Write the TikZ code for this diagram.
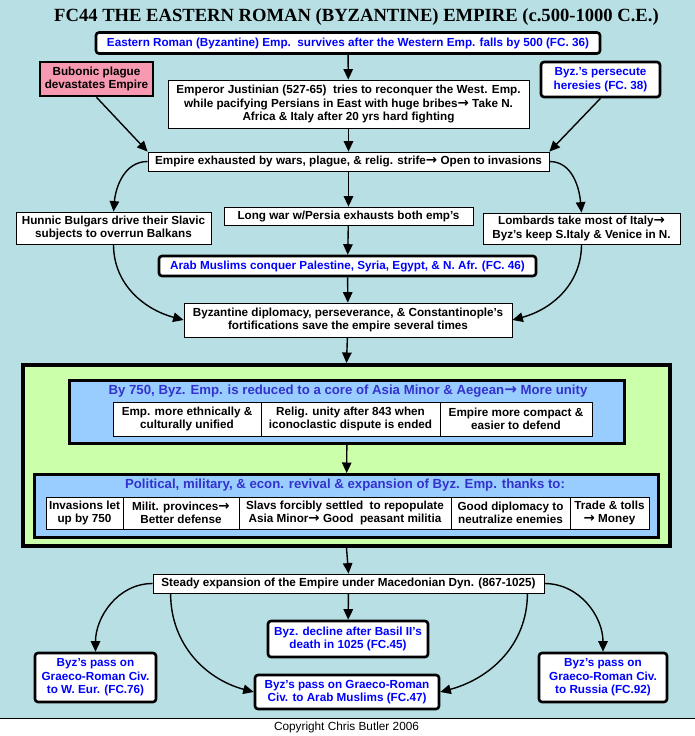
\documentclass[tikz,border=0pt]{standalone}
\usepackage{fontspec}
\setmainfont{Liberation Sans}
\newfontfamily\titlefont{Liberation Serif}
\newfontfamily\arrfont{DejaVu Sans}
\newcommand\ra{{\arrfont\bfseries\scalebox{1.15}{→}}}
\usetikzlibrary{arrows.meta,calc}
\definecolor{bgc}{HTML}{B8E0E4}
\definecolor{pinkc}{HTML}{F799B0}
\definecolor{greenc}{HTML}{CCFFAA}
\definecolor{bluec}{HTML}{99CCFF}
\definecolor{fcblue}{HTML}{0000FF}
\definecolor{ttlblue}{HTML}{3333CC}
\tikzset{
  base/.style={draw, line width=0.8pt, fill=white, align=center, inner sep=0.5pt,
    font=\bfseries\fontsize{11.7}{13.6}\selectfont},
  fcbox/.style={base, rounded corners=3pt, line width=2.6pt, text=fcblue},
  pinkbox/.style={base, line width=2.6pt, fill=pinkc},
  cell/.style={base},
  panel/.style={draw, line width=3pt, fill=bluec},
  ttl/.style={font=\bfseries\fontsize{13.2}{15}\selectfont, text=ttlblue, inner sep=0pt},
  arr/.style={-{Triangle[length=10.5pt,width=9.5pt]}, line width=1.4pt},
}
\begin{document}
\begin{tikzpicture}[x=1pt,y=1pt]
\useasboundingbox (0,0) rectangle (695,-736);
\fill[bgc] (0,0) rectangle (695,-718);
\fill[white] (0,-718) rectangle (695,-736);
\draw[line width=1pt] (0,-718.5) -- (695,-718.5);

\node[font=\titlefont\bfseries\fontsize{18.6}{20}\selectfont, inner sep=0pt] (title) at (356.5,-17.5)
  {FC44 THE EASTERN ROMAN (BYZANTINE) EMPIRE (c.500-1000 C.E.)};

\node[fcbox, minimum width=504, minimum height=21] (east) at (348,-43)
  {Eastern Roman (Byzantine) Emp.\ \ survives after the Western Emp. falls by 500 (FC. 36)};
\node[pinkbox, minimum width=113, minimum height=34] (plague) at (96.5,-79)
  {Bubonic plague\\devastates Empire};
\node[base, minimum width=361, minimum height=48] (just) at (348.5,-104)
  {Emperor Justinian (527-65)\ \ tries to reconquer the West. Emp.\\
   while pacifying Persians in East with huge bribes\ra\ Take N.\\
   Africa \& Italy after 20 yrs hard fighting};
\node[fcbox, minimum width=119, minimum height=35] (pers) at (600.5,-79.5)
  {Byz.’s persecute\\heresies (FC. 38)};

\node[base, minimum width=401, minimum height=19] (exh) at (348.5,-161.5)
  {Empire exhausted by wars, plague, \& relig. strife\ra\ Open to invasions};
\node[base, minimum width=195, minimum height=32] (hun) at (113.5,-228)
  {Hunnic Bulgars drive their Slavic\\subjects to overrun Balkans};
\node[base, minimum width=249, minimum height=18] (war) at (348.5,-216)
  {Long war w/Persia exhausts both emp’s};
\node[base, minimum width=197, minimum height=31] (lomb) at (581.5,-228.5)
  {Lombards take most of Italy\ra\\Byz’s keep S.Italy \& Venice in N.};
\node[fcbox, minimum width=377, minimum height=20] (arab) at (347.5,-266)
  {Arab Muslims conquer Palestine, Syria, Egypt, \& N. Afr. (FC. 46)};
\node[base, minimum width=328, minimum height=34] (dipl) at (348,-320)
  {Byzantine diplomacy, perseverance, \& Constantinople’s\\fortifications save the empire several times};

% green panel
\node[draw, line width=4pt, fill=greenc, minimum width=647, minimum height=181, inner sep=0pt] (green) at (346.5,-455.5) {};
\node[panel, minimum width=555, minimum height=63, inner sep=0pt] (p1) at (347,-412) {};
\node[ttl] (t1) at (348,-391) {By 750, Byz. Emp. is reduced to a core of Asia Minor \& Aegean\ra\ More unity};
\node[cell, minimum width=148, minimum height=34] (c1) at (187,-419) {Emp. more ethnically \&\\culturally unified};
\node[cell, minimum width=179, minimum height=34] (c2) at (350.5,-419) {Relig. unity after 843 when\\iconoclastic dispute is ended};
\node[cell, minimum width=152, minimum height=34] (c3) at (516,-419) {Empire more compact \&\\easier to defend};

\node[panel, minimum width=624, minimum height=63, inner sep=0pt] (p2) at (346.5,-506) {};
\node[ttl] (t2) at (345,-485) {Political, military, \& econ. revival \& expansion of Byz. Emp. thanks to:};
\node[cell, minimum width=77, minimum height=32] (d1) at (84.5,-513) {Invasions let\\up by 750};
\node[cell, minimum width=116, minimum height=32] (d2) at (181,-513) {Milit. provinces\ra\\Better defense};
\node[cell, minimum width=212, minimum height=32] (d3) at (345,-513) {Slavs forcibly settled\ \ to repopulate\\Asia Minor\ra\ Good\ \ peasant militia};
\node[cell, minimum width=119, minimum height=32] (d4) at (510.5,-513) {Good diplomacy to\\neutralize enemies};
\node[cell, minimum width=79, minimum height=32] (d5) at (609.5,-513) {Trade \& tolls\\\ra\ Money};

\node[base, minimum width=391, minimum height=19] (stead) at (348.5,-583.5)
  {Steady expansion of the Empire under Macedonian Dyn. (867-1025)};
\node[fcbox, minimum width=160, minimum height=36] (decl) at (348,-639)
  {Byz. decline after Basil II’s\\death in 1025 (FC.45)};
\node[fcbox, minimum width=121, minimum height=49] (weur) at (95.5,-677.5)
  {Byz’s pass on\\Graeco-Roman Civ.\\to W. Eur. (FC.76)};
\node[fcbox, minimum width=184, minimum height=34] (arabc) at (347,-692)
  {Byz’s pass on Graeco-Roman\\Civ. to Arab Muslims (FC.47)};
\node[fcbox, minimum width=128, minimum height=49] (russ) at (603,-677.5)
  {Byz’s pass on\\Graeco-Roman Civ.\\to Russia (FC.92)};

\node[font=\fontsize{11.8}{13}\selectfont, inner sep=0pt] (copy) at (346.5,-727.5) {Copyright Chris Butler 2006};

% connectors
\draw[arr] (east) -- (just);
\draw[arr] (plague.south) -- (exh.north west);
\draw[arr] (pers.south) -- (exh.north east);
\draw[arr] (just) -- (exh);
\draw[arr] (exh.west) to[out=180,in=85] (hun.north);
\draw[arr] (exh.east) to[out=0,in=95] (lomb.north);
\draw[arr] (exh) -- (war);
\draw[arr] (war) -- (arab);
\draw[arr] (arab) -- (dipl);
\draw[arr] (hun.south) to[out=-90,in=165] (dipl.west);
\draw[arr] (lomb.south) to[out=-90,in=15] (dipl.east);
\draw[arr] (dipl) -- (green.north);
\draw[arr] (p1) -- (p2);
\draw[arr] (green.south) -- (stead.north);
\draw[arr] (stead) -- (decl);
\draw[arr] (stead.west) to[out=180,in=90] (weur.north);
\draw[arr] (stead.east) to[out=0,in=90] (russ.north);
\coordinate (sl) at ($(stead.south west)+(18,0)$);
\coordinate (sr) at ($(stead.south east)+(-17,0)$);
\draw[arr] (sl) to[out=-90,in=165] (arabc.west);
\draw[arr] (sr) to[out=-90,in=15] (arabc.east);
\end{tikzpicture}
\end{document}
